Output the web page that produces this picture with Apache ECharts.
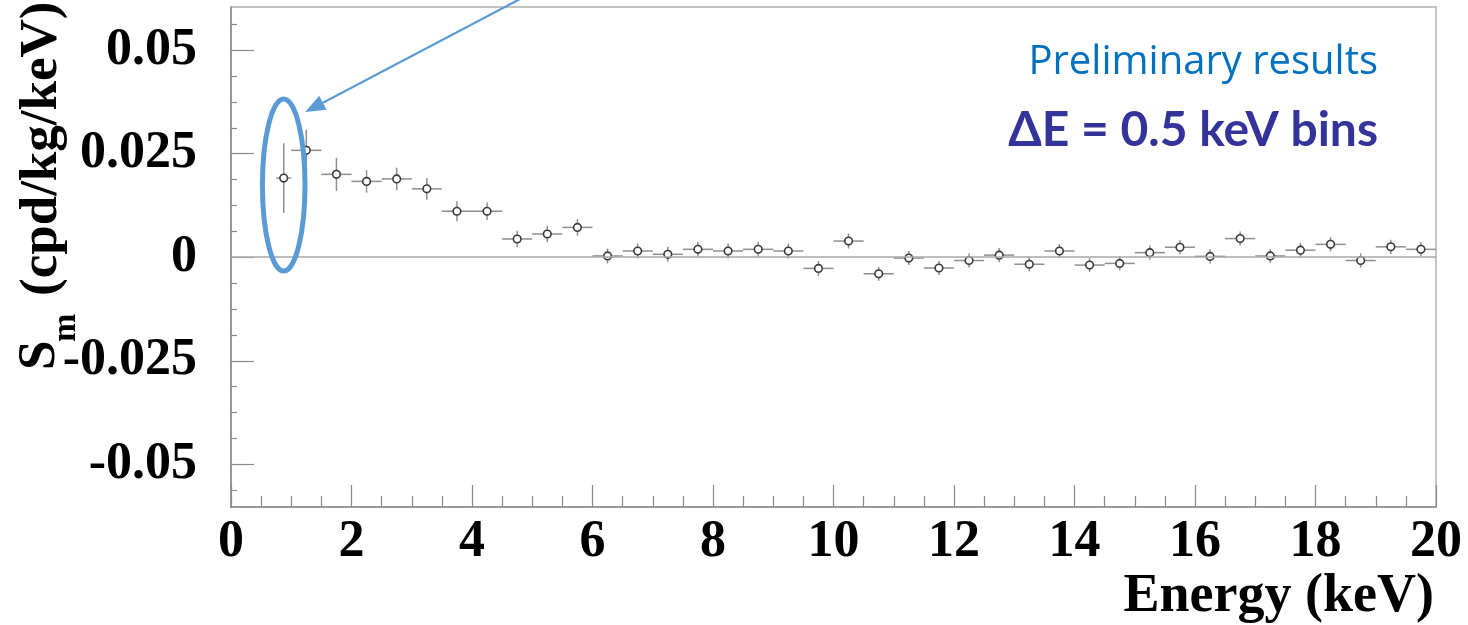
<!DOCTYPE html>
<html>
<head>
<meta charset="utf-8">
<script src="https://cdn.jsdelivr.net/npm/echarts@6/dist/echarts.min.js"></script>
<style>
html,body{margin:0;padding:0;background:#fff;}
#main{width:1468px;height:625px;}
</style>
</head>
<body>
<div id="main"></div>
<script>
// ---- data ----
const binLow  = [0.75, 1.0, 1.5, 2.0, 2.5, 3.0, 3.5, 4.0, 4.5, 5.0, 5.5, 6.0, 6.5, 7.0, 7.5, 8.0, 8.5, 9.0, 9.5, 10.0,
                 10.5, 11.0, 11.5, 12.0, 12.5, 13.0, 13.5, 14.0, 14.5, 15.0, 15.5, 16.0, 16.5, 17.0, 17.5, 18.0, 18.5, 19.0, 19.5];
const binHigh = [1.0, 1.5, 2.0, 2.5, 3.0, 3.5, 4.0, 4.5, 5.0, 5.5, 6.0, 6.5, 7.0, 7.5, 8.0, 8.5, 9.0, 9.5, 10.0, 10.5,
                 11.0, 11.5, 12.0, 12.5, 13.0, 13.5, 14.0, 14.5, 15.0, 15.5, 16.0, 16.5, 17.0, 17.5, 18.0, 18.5, 19.0, 19.5, 20.0];
const smValues = [0.0191, 0.0258, 0.0200, 0.0183, 0.0189, 0.0165, 0.0111, 0.0111, 0.0044, 0.0056, 0.0072, 0.0003, 0.0015,
                  0.0007, 0.0019, 0.0015, 0.0019, 0.0015, -0.0027, 0.0039, -0.0040, -0.0002, -0.0026, -0.0008, 0.0005,
                  -0.0017, 0.0015, -0.0019, -0.0015, 0.0011, 0.0024, 0.0002, 0.0045, 0.0003, 0.0017, 0.0031, -0.0008, 0.0025, 0.0019];
const smErrors = [0.0084, 0.0050, 0.0040, 0.0027, 0.0027, 0.0026, 0.0024, 0.0021, 0.0020, 0.0020, 0.0020, 0.0018, 0.0018,
                  0.0018, 0.0018, 0.0018, 0.0018, 0.0018, 0.0018, 0.0018, 0.0017, 0.0017, 0.0017, 0.0017, 0.0017,
                  0.0017, 0.0017, 0.0017, 0.0017, 0.0017, 0.0017, 0.0017, 0.0017, 0.0017, 0.0017, 0.0017, 0.0017, 0.0017, 0.0017];
const yMajorTicks = [-0.05, -0.025, 0, 0.025, 0.05];
const yMinorTicks = [-0.05625, -0.04375, -0.0375, -0.03125, -0.01875, -0.0125, -0.00625,
                     0.00625, 0.0125, 0.01875, 0.03125, 0.0375, 0.04375, 0.05625];
const yTickLabels = {'-0.05':'-0.05', '-0.025':'-0.025', '0':'0', '0.025':'0.025', '0.05':'0.05'};
const xAxisTitle = 'Energy (keV)';
const yAxisSymbol = 'S';
const yAxisSub = 'm';
const yAxisUnit = '(cpd/kg/keV)';
const note1 = 'Preliminary results';
const note2 = '\u0394E = 0.5 keV bins';

const rows = binLow.map((lo, i) => [lo, binHigh[i], (lo + binHigh[i]) / 2, smValues[i], smErrors[i]]);

const chart = echarts.init(document.getElementById('main'), null, {renderer: 'canvas'});
const serif = "'Liberation Serif', 'Times New Roman', serif";
const Y_MIN = -0.0603, Y_MAX = 0.0604;
const axisGrey = '#8a8a8a';

const option = {
  animation: false,
  backgroundColor: '#ffffff',
  grid: {left: 231, right: 32, top: 7, bottom: 118, show: true, borderColor: '#b0b0b0', borderWidth: 1.5},
  xAxis: {
    type: 'value', min: 0, max: 20, interval: 2,
    axisLine: {show: true, onZero: false, lineStyle: {color: axisGrey, width: 1.5}},
    axisTick: {show: true, inside: true, length: 22, lineStyle: {color: axisGrey, width: 1.2}},
    minorTick: {show: true, splitNumber: 4, length: 11, lineStyle: {color: axisGrey, width: 1.2}},
    axisLabel: {fontFamily: serif, fontWeight: 'bold', fontSize: 52, color: '#000', margin: 10},
    splitLine: {show: false}
  },
  yAxis: [
    {
      type: 'value', min: Y_MIN, max: Y_MAX, position: 'left',
      axisLine: {show: true, onZero: false, lineStyle: {color: axisGrey, width: 1.5}},
      axisTick: {show: true, inside: true, length: 23, customValues: yMajorTicks, lineStyle: {color: axisGrey, width: 1.2}},
      axisLabel: {customValues: yMajorTicks, fontFamily: serif, fontWeight: 'bold', fontSize: 52, color: '#000', margin: 34,
                  formatter: v => { const k = String(+v.toFixed(4)); return yTickLabels[k] !== undefined ? yTickLabels[k] : k; }},
      splitLine: {show: false}
    },
    {
      type: 'value', min: Y_MIN, max: Y_MAX, position: 'left',
      axisLine: {show: false, onZero: false},
      axisTick: {show: true, inside: true, length: 6, customValues: yMinorTicks, lineStyle: {color: axisGrey, width: 1.2}},
      axisLabel: {show: false},
      splitLine: {show: false}
    }
  ],
  series: [{
    type: 'custom',
    data: rows,
    encode: {x: 2, y: 3},
    clip: false,
    renderItem: function (params, api) {
      const lo = api.value(0), hi = api.value(1), xc = api.value(2), y = api.value(3), e = api.value(4);
      const pL = api.coord([lo, y]), pR = api.coord([hi, y]);
      const pT = api.coord([xc, y + e]), pB = api.coord([xc, y - e]);
      const pC = api.coord([xc, y]);
      const barStyle = {stroke: '#8e8e8e', lineWidth: 1.5};
      return {
        type: 'group',
        children: [
          {type: 'line', shape: {x1: pL[0], y1: pL[1], x2: pR[0], y2: pR[1]}, style: barStyle},
          {type: 'line', shape: {x1: pT[0], y1: pT[1], x2: pB[0], y2: pB[1]}, style: barStyle},
          {type: 'circle', shape: {cx: pC[0], cy: pC[1], r: 3.8}, style: {fill: '#ffffff', stroke: '#3a3a3a', lineWidth: 1.6}}
        ]
      };
    },
    markLine: {
      silent: true, symbol: 'none', label: {show: false},
      lineStyle: {color: '#a8a8a8', width: 1.5, type: 'solid'},
      data: [{yAxis: 0}]
    }
  }]
};
chart.setOption(option);

// annotations anchored to the first data point
const p0 = chart.convertToPixel({gridIndex: 0}, [rows[0][2], rows[0][3]]);
const ellCx = p0[0], ellCy = p0[1] + 7;
const tip = [p0[0] + 21.5, p0[1] - 66];
const start = [522, -2];
const dx = tip[0] - start[0], dy = tip[1] - start[1];
const len = Math.sqrt(dx * dx + dy * dy);
const ux = dx / len, uy = dy / len;
const headLen = 20, headHalf = 8;
const base = [tip[0] - ux * headLen, tip[1] - uy * headLen];
const blue = '#5b9bd5';

chart.setOption({
  graphic: [
    {type: 'ellipse', shape: {cx: ellCx, cy: ellCy, rx: 21.3, ry: 86}, style: {fill: 'none', stroke: blue, lineWidth: 5}, z: 100},
    {type: 'line', shape: {x1: start[0], y1: start[1], x2: base[0], y2: base[1]}, style: {stroke: blue, lineWidth: 2.2}, z: 100},
    {type: 'polygon', shape: {points: [tip, [base[0] - uy * headHalf, base[1] + ux * headHalf], [base[0] + uy * headHalf, base[1] - ux * headHalf]]},
     style: {fill: blue}, z: 100},
    {type: 'text', x: 1378, y: 63, z: 100,
     style: {text: note1, fill: '#0070c0', font: "40px 'Open Sans', Lato, sans-serif", textAlign: 'right', textVerticalAlign: 'middle'}},
    {type: 'text', x: 1378, y: 131, z: 100,
     style: {text: note2, fill: '#33339a', font: "bold 48px Lato, 'Open Sans', sans-serif", textAlign: 'right', textVerticalAlign: 'middle'}},
    {type: 'text', x: 1434, y: 597, z: 100,
     style: {text: xAxisTitle, fill: '#000', font: "bold 54px " + serif, textAlign: 'right', textVerticalAlign: 'middle'}},
    {type: 'text', x: 42, y: 296, rotation: Math.PI / 2, z: 100,
     style: {text: yAxisUnit, fill: '#000', font: "bold 53px " + serif, textAlign: 'left', textVerticalAlign: 'middle'}},
    {type: 'text', x: 40, y: 370, rotation: Math.PI / 2, z: 100,
     style: {text: yAxisSymbol, fill: '#000', font: "bold 53px " + serif, textAlign: 'left', textVerticalAlign: 'middle'}},
    {type: 'text', x: 66, y: 342, rotation: Math.PI / 2, z: 100,
     style: {text: yAxisSub, fill: '#000', font: "bold 34px " + serif, textAlign: 'left', textVerticalAlign: 'middle'}}
  ]
});
</script>
</body>
</html>
